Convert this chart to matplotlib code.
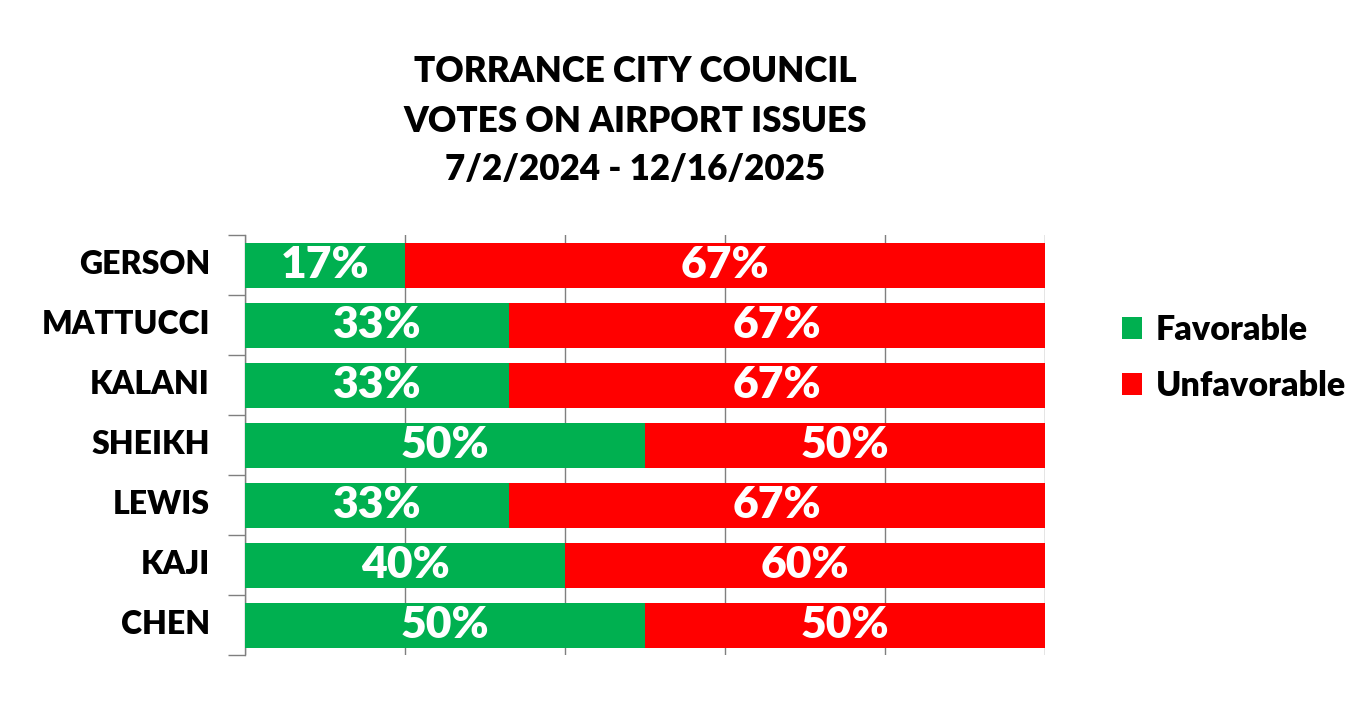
import matplotlib
matplotlib.use("Agg")
import matplotlib.pyplot as plt
import matplotlib.patches as patches
import numpy as np

plt.rcParams["font.family"] = ["Lato", "DejaVu Sans"]
plt.rcParams["font.weight"] = "bold"

# data (top to bottom as shown)
members = ["GERSON", "MATTUCCI", "KALANI", "SHEIKH", "LEWIS", "KAJI", "CHEN"]
favorable = [20, 33, 33, 50, 33, 40, 50]
unfavorable = [80, 67, 67, 50, 67, 60, 50]
favorable_labels = ["17%", "33%", "33%", "50%", "33%", "40%", "50%"]
unfavorable_labels = ["67%", "67%", "67%", "50%", "67%", "60%", "50%"]
title_lines = ["TORRANCE CITY COUNCIL", "VOTES ON AIRPORT ISSUES", "7/2/2024 - 12/16/2025"]

green = "#00b050"
red = "#ff0000"
grid_color = "#7f7f7f"
weight = "heavy"

W, H = 1364, 714
fig = plt.figure(figsize=(W / 100, H / 100), dpi=100)
fig.patch.set_facecolor("white")
ax = fig.add_axes([245 / W, 1 - 655 / H, 800 / W, 420 / H])

y = np.arange(len(members))
ax.barh(y, favorable, height=0.75, color=green, label="Favorable", zorder=3)
ax.barh(y, unfavorable, left=favorable, height=0.75, color=red, label="Unfavorable", zorder=3)

for i in range(len(members)):
    ax.text(favorable[i] / 2, y[i], favorable_labels[i], ha="center", va="center",
            color="white", fontsize=32, fontweight=weight, zorder=4)
    ax.text(favorable[i] + unfavorable[i] / 2, y[i], unfavorable_labels[i], ha="center", va="center",
            color="white", fontsize=32, fontweight=weight, zorder=4)

ax.set_xlim(0, 100)
ax.set_ylim(len(members) - 0.5, -0.5)
ax.set_xticks(np.arange(0, 101, 20))
ax.xaxis.grid(True, color=grid_color, linewidth=1.0, zorder=0)
ax.tick_params(axis="x", length=0, labelbottom=False)

# category boundaries as ticks on the left spine
ax.set_yticks(np.arange(-0.5, len(members), 1.0))
ax.set_yticklabels([])
ax.tick_params(axis="y", length=12, color=grid_color, width=1.0)
for i, name in enumerate(members):
    ax.text(-35 / 8, y[i], name, ha="right", va="center", fontsize=23, fontweight=weight, color="black")

for side in ["top", "right", "bottom"]:
    ax.spines[side].set_visible(False)
ax.spines["left"].set_color(grid_color)
ax.spines["left"].set_linewidth(1.0)

for k, line in enumerate(title_lines):
    fig.text(635 / W, 1 - (72 + 49 * k) / H, line, ha="center", va="center",
             fontsize=25.2, fontweight=weight, color="black")

handles = [patches.Patch(facecolor=green, label="Favorable"),
           patches.Patch(facecolor=red, label="Unfavorable")]
fig.legend(handles=handles, loc="center left", bbox_to_anchor=(1122 / W, 1 - 358 / H),
           frameon=False, prop={"weight": weight, "size": 24.5},
           handlelength=0.6, handleheight=0.6, borderaxespad=0,
           handletextpad=0.4, labelspacing=0.72, borderpad=0)

fig.savefig("out.png", dpi=100, facecolor="white")
